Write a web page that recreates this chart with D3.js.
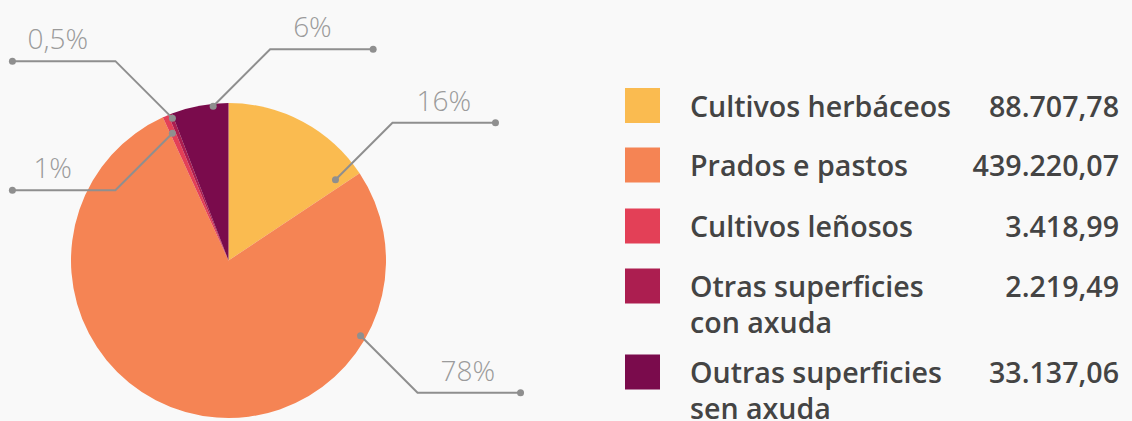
<!DOCTYPE html>
<html>
<head>
<meta charset="utf-8">
<script src="https://cdn.jsdelivr.net/npm/d3@7"></script>
<style>
  html, body { margin: 0; padding: 0; background: #f9f9f9; }
  svg { display: block; }
</style>
</head>
<body>
<svg id="chart" width="1132" height="421"></svg>
<script>
// ---- data ----
const categories = ["Cultivos herbáceos", "Prados e pastos", "Cultivos leñosos", "Otras superficies con axuda", "Outras superficies sen axuda"];
const legendLines = [["Cultivos herbáceos"], ["Prados e pastos"], ["Cultivos leñosos"], ["Otras superficies", "con axuda"], ["Outras superficies", "sen axuda"]];
const values = [88707.78, 439220.07, 3418.99, 2219.49, 33137.06];
const valueLabels = ["88.707,78", "439.220,07", "3.418,99", "2.219,49", "33.137,06"];
const percentLabels = ["16%", "78%", "1%", "0,5%", "6%"];
const colors = ["#fabb50", "#f58454", "#e34057", "#ac1e50", "#7a0b4c"];

// ---- layout (positions/styles) ----
const cx = 228.5, cy = 260.5, R = 157.5;
// anchor: fraction within slice, radius of dot, direction of elbow (sx, sy), text x offset from segment left
const labelLayout = [
  { frac: 0.94, r: 134, sx: 1, sy: -1, tx: 24 },
  { frac: 0.227, r: 152, sx: 1, sy: 1, tx: 23 },
  { frac: 0.38, r: 139, sx: -1, sy: 1, tx: 21 },
  { frac: 0.68, r: 153, sx: -1, sy: -1, tx: 15 },
  { frac: 0.73, r: 155, sx: 1, sy: -1, tx: 23 }
];
const legendBaselines = [116.5, 176, 237, 297, 383];
const legendFont = 28.6;

const svg = d3.select("#chart");
const data = categories.map((c, i) => ({ name: c, value: values[i], i }));

const pie = d3.pie().value(d => d.value).sort(null);
const arcs = pie(data);
const arc = d3.arc().innerRadius(0).outerRadius(R);

const g = svg.append("g").attr("transform", `translate(${cx},${cy})`);
g.selectAll("path.slice").data(arcs).enter().append("path")
  .attr("class", "slice")
  .attr("d", arc)
  .attr("fill", (d, i) => colors[i]);

// leader lines
const lineColor = "#8f8f8f";
const lines = svg.append("g");
arcs.forEach((a, i) => {
  const L = labelLayout[i];
  const ang = a.startAngle + (a.endAngle - a.startAngle) * L.frac;
  const p0 = [cx + L.r * Math.sin(ang), cy - L.r * Math.cos(ang)];
  const p1 = [p0[0] + L.sx * 57, p0[1] + L.sy * 57];
  const p2 = [p1[0] + L.sx * 103, p1[1]];
  lines.append("polyline")
    .attr("points", [p0, p1, p2].map(p => p.join(",")).join(" "))
    .attr("fill", "none").attr("stroke", lineColor).attr("stroke-width", 2);
  [p0, p2].forEach(p => lines.append("circle").attr("cx", p[0]).attr("cy", p[1]).attr("r", 3.5).attr("fill", lineColor));
  const segLeft = Math.min(p1[0], p2[0]);
  lines.append("text")
    .attr("x", segLeft + L.tx)
    .attr("y", p1[1] - 12)
    .attr("font-family", "'Open Sans', sans-serif")
    .attr("font-weight", 300)
    .attr("font-size", 28)
    .attr("fill", "#9b9b9b")
    .text(percentLabels[i]);
});

// legend
const leg = svg.append("g");
data.forEach((d, i) => {
  const b = legendBaselines[i];
  leg.append("rect").attr("x", 625).attr("y", b - 28.5).attr("width", 35).attr("height", 35).attr("fill", colors[i]);
  const t = leg.append("text")
    .attr("x", 690).attr("y", b)
    .attr("font-family", "'Open Sans', sans-serif")
    .attr("font-weight", 600)
    .attr("font-size", legendFont)
    .attr("fill", "#444");
  legendLines[i].forEach((ln, k) => t.append("tspan").attr("x", 690).attr("y", b + k * 36).text(ln));
  leg.append("text")
    .attr("x", 1119).attr("y", b)
    .attr("text-anchor", "end")
    .attr("font-family", "'Open Sans', sans-serif")
    .attr("font-weight", 600)
    .attr("font-size", legendFont)
    .attr("fill", "#444")
    .text(valueLabels[i]);
});
</script>
</body>
</html>
